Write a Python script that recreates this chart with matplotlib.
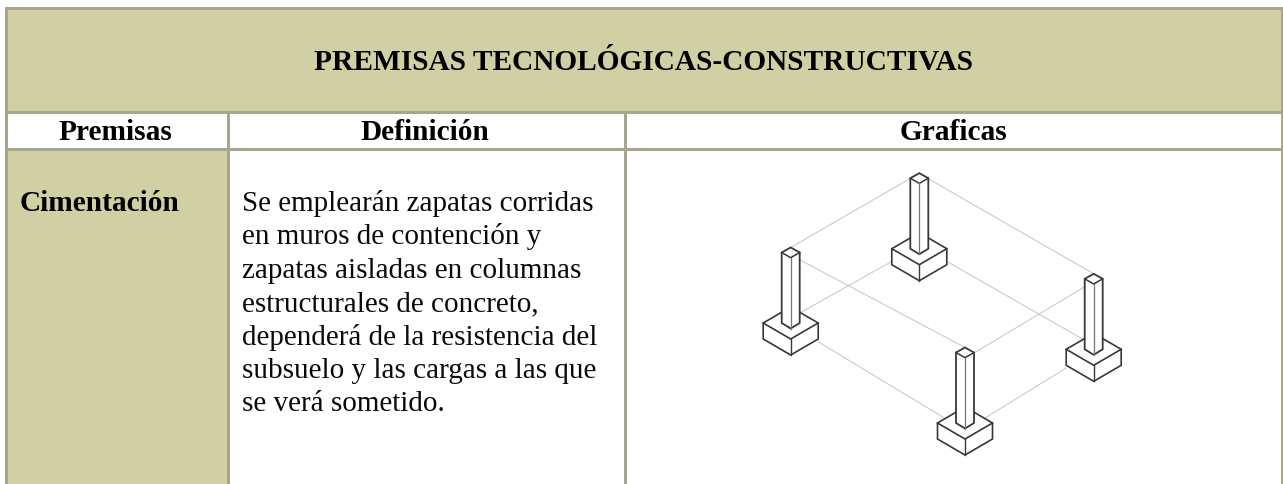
import matplotlib.pyplot as plt
from matplotlib.patches import Rectangle, Polygon

W, H = 1283, 484
plt.rcParams['font.family'] = ['Liberation Serif', 'DejaVu Serif']

titulo = 'PREMISAS TECNOLÓGICAS-CONSTRUCTIVAS'
encabezados = ['Premisas', 'Definición', 'Graficas']
premisa = 'Cimentación'
definicion = ['Se emplearán zapatas corridas',
              'en muros de contención y',
              'zapatas aisladas en columnas',
              'estructurales de concreto,',
              'dependerá de la resistencia del',
              'subsuelo y las cargas a las que',
              'se verá sometido.']

# columnas de la tabla (px)
col_x = [5.5, 227.5, 624.5, 1281.5]
fila_y = [7.5, 111.5, 148.5, 484]
centros_col = [115, 425, 953.5]

# zapatas: vertice inferior de cada una (px)
zap_x = [790.7, 919.3, 965, 1093.7]
zap_y = [355, 280.7, 455, 381.3]

BORDE = '#a7a58c'
OLIVA = '#d0d0a4'
LINEA = '#383838'
GUIA = '#c4c4c4'
GROSOR = 2.16

fig = plt.figure(figsize=(W / 100, H / 100), dpi=100)
ax = fig.add_axes([0, 0, 1, 1])
ax.set_xlim(0, W)
ax.set_ylim(H, 0)
ax.axis('off')

# fondos
ax.add_patch(Rectangle((col_x[0], fila_y[0]), col_x[3] - col_x[0], fila_y[1] - fila_y[0], color=OLIVA, lw=0))
ax.add_patch(Rectangle((col_x[0], fila_y[2]), col_x[1] - col_x[0], fila_y[3] - fila_y[2], color=OLIVA, lw=0))

# bordes
for y in fila_y[:3]:
    ax.plot([col_x[0], col_x[3]], [y, y], color=BORDE, lw=GROSOR, solid_capstyle='projecting')
ax.plot([col_x[0], col_x[0]], [fila_y[0], H], color=BORDE, lw=GROSOR)
ax.plot([col_x[3], col_x[3]], [fila_y[0], H], color=BORDE, lw=GROSOR)
for x in col_x[1:3]:
    ax.plot([x, x], [fila_y[1], H], color=BORDE, lw=GROSOR)

# textos
ax.text(643.5, 70, titulo, fontsize=21.2, fontweight='bold', ha='center', va='baseline')
for cx, t in zip(centros_col, encabezados):
    ax.text(cx, 140, t, fontsize=21.2, fontweight='bold', ha='center', va='baseline')
ax.text(20, 211, premisa, fontsize=21.2, fontweight='bold', va='baseline')
for i, linea in enumerate(definicion):
    ax.text(242.5, 211 + i * 33.4, linea, fontsize=21, va='baseline', color='#0a0a0a')


def pt(i, dx, dy):
    return zap_x[i] + dx, zap_y[i] + dy


# lineas guia entre zapatas
guias = [(0, (0, -107.5), 1, (0, -107.5)), (1, (9, -102), 3, (0, -107.5)),
         (0, (0, -100), 2, (0, -107.5)), (2, (9, -102), 3, (0, -100)),
         (0, (9, -42), 1, (-28, -19)), (1, (28, -19), 3, (-9, -41)),
         (0, (28, -13), 2, (-19, -36)), (2, (20, -37), 3, (-28, -13))]
for a, pa, b, pb in guias:
    xa, ya = pt(a, *pa)
    xb, yb = pt(b, *pb)
    ax.plot([xa, xb], [ya, yb], color=GUIA, lw=0.7, zorder=2)


def zapata(i):
    # dado de la zapata
    ax.add_patch(Polygon([pt(i, -27.5, -32), pt(i, 0, -48), pt(i, 27.5, -32), pt(i, 27.5, -16),
                          pt(i, 0, 0), pt(i, -27.5, -16)], closed=True, fc='white', ec=LINEA, lw=1.2, zorder=3))
    ax.plot(*zip(pt(i, -27.5, -32), pt(i, 0, -16), pt(i, 27.5, -32)), color=LINEA, lw=1.2, zorder=4)
    ax.plot(*zip(pt(i, 0, -16), pt(i, 0, 0)), color=LINEA, lw=1.0, zorder=4)
    # columna
    ax.add_patch(Polygon([pt(i, -9, -102.5), pt(i, 0, -107.5), pt(i, 9, -102.5), pt(i, 9, -32),
                          pt(i, 0, -26.5), pt(i, -9, -32)], closed=True, fc='white', ec=LINEA, lw=1.3, zorder=5))
    ax.plot(*zip(pt(i, -9, -102.5), pt(i, 0, -97.3), pt(i, 9, -102.5)), color=LINEA, lw=1.1, zorder=6)
    ax.plot(*zip(pt(i, 0, -97.3), pt(i, 0, -26.5)), color='#777777', lw=0.9, zorder=6)


for i in [1, 0, 3, 2]:
    zapata(i)

fig.savefig('out.png', dpi=100, facecolor='white')
